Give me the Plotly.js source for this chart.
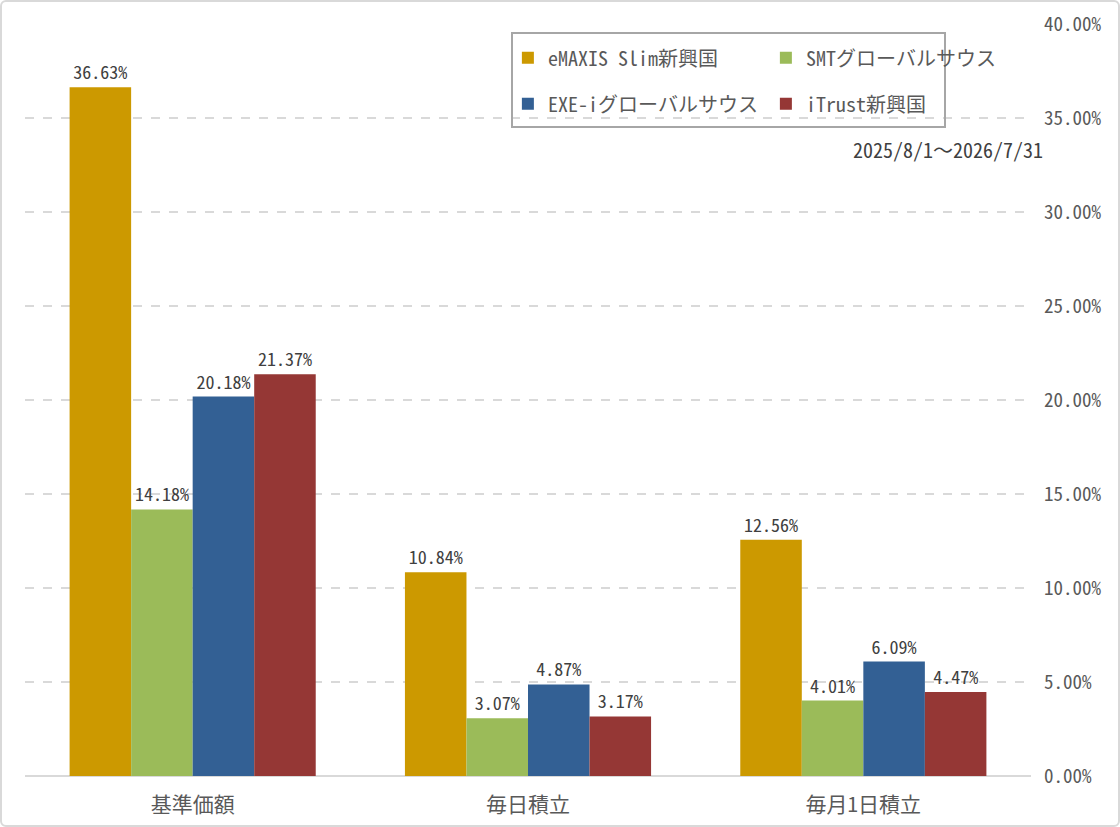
<!DOCTYPE html>
<html>
<head>
<meta charset="utf-8">
<script src="https://cdn.plot.ly/plotly-3.0.1.min.js"></script>
<style>
  body { margin: 0; background: #fff; }
  #wrap { position: relative; width: 1120px; height: 827px; }
  #frame { position: absolute; left: 0; top: 0; width: 1116px; height: 823px;
           border: 2px solid #d9d9d9; border-radius: 6px; pointer-events: none; }
</style>
</head>
<body>
<div id="wrap">
  <div id="chart" style="width:1120px;height:827px;"></div>
  <div id="frame"></div>
</div>
<script>
// categories and fund returns (%)
var categories = ['基準価額', '毎日積立', '毎月1日積立'];
var emaxis = [36.63, 10.84, 12.56];
var smt = [14.18, 3.07, 4.01];
var exei = [20.18, 4.87, 6.09];
var itrust = [21.37, 3.17, 4.47];
var period = '2025/8/1～2026/7/31';

var font = '"Noto Sans Mono CJK JP", "Noto Sans CJK JP", sans-serif';

function bar(name, vals, color, leg) {
  return {
    x: categories, y: vals, name: name, type: 'bar',
    marker: {color: color},
    text: vals.map(function (v) { return v.toFixed(2) + '%'; }),
    textposition: 'outside',
    textfont: {family: font, size: 18, color: '#404040'},
    cliponaxis: false,
    legend: leg,
    hoverinfo: 'none'
  };
}

var data = [
  bar('eMAXIS Slim新興国', emaxis, '#CC9900', 'legend'),
  bar('SMTグローバルサウス', smt, '#9BBB59', 'legend'),
  bar('EXE-iグローバルサウス', exei, '#336094', 'legend2'),
  bar('iTrust新興国', itrust, '#953735', 'legend2')
];

var legFont = {family: font, size: 20, color: '#595959'};

var layout = {
  width: 1120, height: 827,
  margin: {l: 25, r: 89, t: 24, b: 51},
  paper_bgcolor: '#ffffff',
  plot_bgcolor: '#ffffff',
  barmode: 'group',
  bargap: 0.266,
  bargroupgap: 0,
  showlegend: true,
  legend: {
    orientation: 'h', x: 0.48, y: 0.955, xanchor: 'left', yanchor: 'middle',
    entrywidth: 213, font: legFont, bgcolor: 'rgba(0,0,0,0)', itemwidth: 30
  },
  legend2: {
    orientation: 'h', x: 0.48, y: 0.894, xanchor: 'left', yanchor: 'middle',
    entrywidth: 213, font: legFont, bgcolor: 'rgba(0,0,0,0)', itemwidth: 30
  },
  xaxis: {
    tickfont: {family: font, size: 21, color: '#595959'},
    showline: false, ticks: '', ticklabelstandoff: 14
  },
  yaxis: {
    side: 'right', range: [0, 40], dtick: 5,
    tickformat: '.2f', ticksuffix: '%',
    tickfont: {family: font, size: 19, color: '#595959'},
    gridcolor: '#d9d9d9', gridwidth: 1.5, griddash: 'dash',
    zeroline: true, zerolinecolor: '#d9d9d9', zerolinewidth: 2,
    ticklabelstandoff: 12
  },
  shapes: [{
    type: 'rect', xref: 'paper', yref: 'paper',
    x0: (512 - 25) / 1006, x1: (945 - 25) / 1006,
    y0: (776 - 127) / 752, y1: (776 - 33) / 752,
    line: {color: '#a6a6a6', width: 2}, fillcolor: 'rgba(0,0,0,0)'
  }],
  annotations: [{
    text: period, xref: 'paper', yref: 'paper',
    x: (1045 - 25) / 1006, y: (776 - 150) / 752,
    xanchor: 'right', yanchor: 'middle', showarrow: false,
    font: {family: font, size: 20, color: '#404040'}
  }]
};

Plotly.newPlot('chart', data, layout, {displayModeBar: false, staticPlot: true});
</script>
</body>
</html>
